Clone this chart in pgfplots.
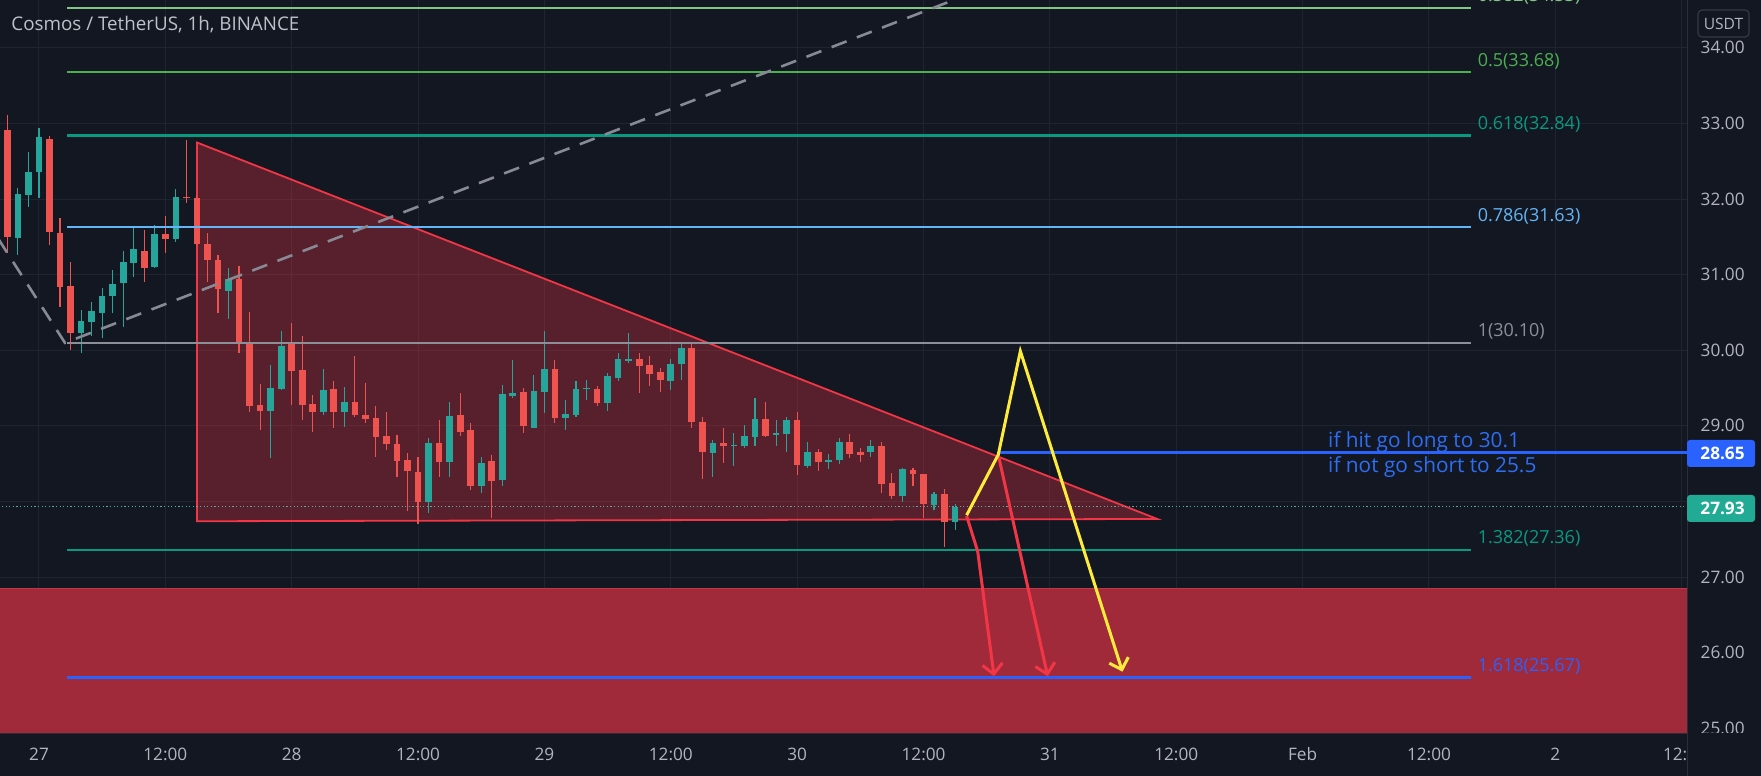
\documentclass[border=0pt]{standalone}
\usepackage{fontspec}
\setmainfont{Open Sans}
\usepackage{pgfplots}
\pgfplotsset{compat=1.18}
\usepackage{pgfplotstable}
\usetikzlibrary{arrows.meta}

\definecolor{bg}{RGB}{19,23,34}
\definecolor{gridc}{RGB}{32,36,48}
\definecolor{sepc}{RGB}{42,46,57}
\definecolor{lab}{RGB}{178,181,190}
\definecolor{ttl}{RGB}{190,193,200}
\definecolor{upc}{RGB}{38,166,154}
\definecolor{dnc}{RGB}{239,83,80}
\definecolor{tri}{RGB}{242,54,69}
\definecolor{zonec}{RGB}{160,42,58}
\definecolor{zoneedge}{RGB}{195,52,68}
\definecolor{fiba}{RGB}{129,199,132}
\definecolor{fibb}{RGB}{76,175,80}
\definecolor{fibc}{RGB}{8,153,129}
\definecolor{fibd}{RGB}{100,181,246}
\definecolor{fibe}{RGB}{140,143,152}
\definecolor{fibg}{RGB}{41,98,255}
\definecolor{dashc}{RGB}{135,138,148}
\definecolor{dotc}{RGB}{90,170,160}
\definecolor{bluec}{RGB}{41,98,255}
\definecolor{txtb}{RGB}{45,110,245}
\definecolor{yel}{RGB}{255,235,59}
\definecolor{rarr}{RGB}{242,54,69}
\definecolor{tagt}{RGB}{34,171,148}
\definecolor{usdtc}{RGB}{54,58,69}

\newcommand\fAx{\fontsize{8.6}{10}\selectfont}
\newcommand\fFib{\fontsize{9.0}{11}\selectfont}
\newcommand\fTxt{\fontsize{10.4}{12}\selectfont}
\newcommand\fTtl{\fontsize{9.4}{11}\selectfont}

% up (teal) candles: hour from Jan 27 00:00, open, high, low, close
\pgfplotstableread{
t o hi lo c
-2 31.49 32.15 31.26 32.07
-1 32.06 32.63 31.90 32.36
0 32.36 32.94 32.01 32.82
4 30.23 30.53 29.97 30.39
5 30.38 30.64 30.19 30.52
6 30.50 30.82 30.16 30.72
7 30.72 31.06 30.49 30.88
8 30.89 31.31 30.31 31.17
9 31.15 31.62 30.97 31.34
11 31.10 31.66 31.09 31.54
13 31.47 32.14 31.44 32.03
18 30.79 31.09 30.42 30.94
22 29.20 29.81 28.57 29.50
23 29.49 30.25 29.48 30.06
27 29.19 29.76 29.14 29.48
29 29.19 29.52 28.99 29.32
37 27.99 28.84 27.85 28.78
39 28.53 29.32 28.33 29.13
42 28.20 28.59 28.11 28.51
44 28.29 29.54 28.21 29.42
45 29.40 29.87 29.37 29.44
47 28.98 29.67 28.97 29.46
48 29.45 30.25 29.17 29.76
50 29.11 29.34 28.95 29.16
51 29.15 29.59 29.12 29.49
52 29.49 29.61 29.34 29.50
54 29.31 29.70 29.20 29.66
55 29.63 29.96 29.59 29.89
56 29.86 30.23 29.83 29.89
60 29.60 29.88 29.48 29.82
61 29.82 30.08 29.61 30.03
64 28.64 28.81 28.33 28.77
66 28.74 28.91 28.47 28.75
67 28.73 29.01 28.71 28.87
68 28.86 29.37 28.74 29.09
70 28.88 29.08 28.73 28.91
71 28.89 29.12 28.66 29.08
73 28.47 28.79 28.45 28.66
75 28.53 28.63 28.43 28.55
76 28.55 28.84 28.50 28.79
79 28.65 28.82 28.59 28.74
82 28.07 28.44 28.00 28.43
85 27.96 28.13 27.89 28.10
87 27.73 27.97 27.63 27.93
}\uptable

% down (red) candles
\pgfplotstableread{
t o hi lo c
-4 33.75 33.85 32.80 32.92
-3 32.91 33.11 31.29 31.50
1 32.80 32.83 31.39 31.56
2 31.55 31.75 30.58 30.84
3 30.85 31.17 30.01 30.23
10 31.32 31.59 30.91 31.09
12 31.54 31.78 31.29 31.48
14 32.03 32.78 31.95 32.01
15 32.01 32.05 31.38 31.41
16 31.41 31.55 30.91 31.19
17 31.20 31.26 30.49 30.81
19 30.94 31.12 29.96 30.09
20 30.09 30.51 29.19 29.26
21 29.28 29.56 28.95 29.20
24 30.08 30.36 29.28 29.73
25 29.74 30.19 29.08 29.28
26 29.29 29.41 28.92 29.19
28 29.49 29.59 28.98 29.19
30 29.32 29.92 29.12 29.15
31 29.15 29.57 29.04 29.09
32 29.10 29.26 28.59 28.85
33 28.87 29.19 28.68 28.76
34 28.76 28.88 28.33 28.54
35 28.55 28.64 27.87 28.40
36 28.39 28.59 27.71 27.99
38 28.78 29.08 28.33 28.53
40 29.14 29.44 28.87 28.92
41 28.95 29.04 28.15 28.20
43 28.54 28.62 27.78 28.27
46 29.45 29.50 28.91 29.00
49 29.76 29.87 29.04 29.10
53 29.49 29.53 29.26 29.30
57 29.89 29.96 29.43 29.80
58 29.81 29.93 29.53 29.69
59 29.71 29.77 29.45 29.61
62 30.03 30.08 28.98 29.05
63 29.05 29.12 28.30 28.65
65 28.78 28.98 28.51 28.73
69 29.09 29.32 28.86 28.87
72 29.08 29.19 28.35 28.48
74 28.66 28.69 28.41 28.53
77 28.79 28.90 28.57 28.63
78 28.66 28.71 28.53 28.62
80 28.74 28.79 28.12 28.23
81 28.24 28.38 28.03 28.07
83 28.42 28.44 28.21 28.37
84 28.37 28.37 27.78 27.97
86 28.10 28.16 27.40 27.73
}\downtable

\pgfplotsset{candle/.style={only marks, mark=none, mark size=0pt,
  mark options={draw=none, fill=none}, forget plot,
  error bars/y dir=plus, error bars/y explicit, error bars/error mark=none}}

\begin{document}
\begin{tikzpicture}
\fill[bg] (0,0) rectangle (880.5pt,388pt);
\begin{axis}[
  at={(0pt,21.5pt)}, anchor=south west,
  scale only axis, width=843.5pt, height=366.5pt,
  xmin=-3.70, xmax=156.51, ymin=24.939, ymax=34.635,
  axis line style={draw=none}, tick style={draw=none},
  xtick={0,12,...,156}, ytick={25,...,34},
  xticklabels={}, yticklabels={},
  grid=major, major grid style={draw=gridc, line width=0.5pt},
]
% red zone
\addplot[fill=zonec, draw=none, forget plot] coordinates {(-10,24) (170,24) (170,26.85) (-10,26.85)} -- cycle;
\addplot[draw=zoneedge, line width=0.6pt, forget plot] coordinates {(-10,26.85) (170,26.85)};
% triangle
\addplot[fill=tri, fill opacity=0.31, draw=tri, line width=0.9pt, forget plot] coordinates {(15,32.75) (106.2,27.77) (15,27.74)} -- cycle;
% last price dotted line
\addplot[draw=dotc, line width=0.5pt, dash pattern=on 0.6pt off 1.2pt, forget plot] coordinates {(-10,27.93) (170,27.93)};
% candles: wicks
\addplot[candle, error bars/error bar style={line width=0.55pt, draw=upc}]
  table[x=t, y=lo, y error plus expr=\thisrow{hi}-\thisrow{lo}] {\uptable};
\addplot[candle, error bars/error bar style={line width=0.55pt, draw=dnc}]
  table[x=t, y=lo, y error plus expr=\thisrow{hi}-\thisrow{lo}] {\downtable};
% candles: bodies
\addplot[candle, error bars/error bar style={line width=3.35pt, draw=upc}]
  table[x=t, y=o, y error plus expr={max(\thisrow{c}-\thisrow{o},0.015)}] {\uptable};
\addplot[candle, error bars/error bar style={line width=3.35pt, draw=dnc}]
  table[x=t, y=c, y error plus expr={max(\thisrow{o}-\thisrow{c},0.015)}] {\downtable};
% fib levels
\addplot[draw=fiba, line width=1.3pt, forget plot] coordinates {(2.7,34.53) (136.0,34.53)};
\addplot[draw=fibb, line width=1.3pt, forget plot] coordinates {(2.7,33.68) (136.0,33.68)};
\addplot[draw=fibc, line width=1.3pt, forget plot] coordinates {(2.7,32.84) (136.0,32.84)};
\addplot[draw=fibd, line width=1.3pt, forget plot] coordinates {(2.7,31.63) (136.0,31.63)};
\addplot[draw=fibe, line width=1.3pt, forget plot] coordinates {(2.7,30.10) (136.0,30.10)};
\addplot[draw=fibc, line width=1.3pt, forget plot] coordinates {(2.7,27.36) (136.0,27.36)};
\addplot[draw=fibg, line width=1.3pt, forget plot] coordinates {(2.7,25.67) (136.0,25.67)};
% dashed trend legs
\addplot[draw=dashc, line width=1.3pt, dash pattern=on 8pt off 5.5pt, forget plot] coordinates {(-8,32.375) (2.47,30.10) (100,35.34)};
% breakout level
\addplot[draw=bluec, line width=1.3pt, forget plot] coordinates {(91.1,28.65) (170,28.65)};
% scenario arrows
\addplot[draw=rarr, line width=1.5pt, -{Straight Barb[length=5pt,width=10pt]}, forget plot] coordinates {(88.1,27.81) (89.15,27.34) (90.7,25.69)};
\addplot[draw=rarr, line width=1.5pt, -{Straight Barb[length=5pt,width=10pt]}, forget plot] coordinates {(91.1,28.62) (95.8,25.69)};
\addplot[draw=yel, line width=1.5pt, -{Straight Barb[length=5pt,width=10pt]}, forget plot] coordinates {(88.1,27.82) (91.1,28.62) (93.2,29.99) (102.9,25.75)};
% fib labels
\node[anchor=west, yshift=5.6pt, text=fiba, font=\fFib, inner sep=0pt] at (axis cs:136.6,34.53) {0.382(34.53)};
\node[anchor=west, yshift=5.6pt, text=fibb, font=\fFib, inner sep=0pt] at (axis cs:136.6,33.68) {0.5(33.68)};
\node[anchor=west, yshift=5.6pt, text=fibc, font=\fFib, inner sep=0pt] at (axis cs:136.6,32.84) {0.618(32.84)};
\node[anchor=west, yshift=5.6pt, text=fibd, font=\fFib, inner sep=0pt] at (axis cs:136.6,31.63) {0.786(31.63)};
\node[anchor=west, yshift=5.6pt, text=fibe, font=\fFib, inner sep=0pt] at (axis cs:136.6,30.10) {1(30.10)};
\node[anchor=west, yshift=5.6pt, text=fibc, font=\fFib, inner sep=0pt] at (axis cs:136.6,27.36) {1.382(27.36)};
\node[anchor=west, yshift=5.6pt, text=fibg, font=\fFib, inner sep=0pt] at (axis cs:136.6,25.67) {1.618(25.67)};
% note text
\node[anchor=west, text=txtb, font=\fTxt, inner sep=0pt] at (axis cs:122.4,28.79) {if hit go long to 30.1};
\node[anchor=west, text=txtb, font=\fTxt, inner sep=0pt] at (axis cs:122.4,28.46) {if not go short to 25.5};
\end{axis}
% separators
\draw[sepc, line width=0.5pt] (843.75pt,0) -- (843.75pt,388pt);
\draw[sepc, line width=0.5pt] (0,21.25pt) -- (843.5pt,21.25pt);
% price scale labels
\begin{scope}
\clip (844pt,21.5pt) rectangle (880.5pt,388pt);
\foreach \p/\yy in {34.00/364.0, 33.00/326.2, 32.00/288.4, 31.00/250.6, 30.00/212.8, 29.00/175.0, 27.00/99.4, 26.00/61.6, 25.00/23.8}
  \node[anchor=base east, text=lab, font=\fAx, inner sep=0pt] at (872.5pt,\yy pt-3pt) {\p};
\end{scope}
% time labels
\foreach \xx/\lbl in {19.5/27, 82.68/12:00, 145.86/28, 209.04/12:00, 272.22/29, 335.4/12:00, 398.58/30, 461.76/12:00, 524.94/31, 588.12/12:00, 651.3/Feb, 714.48/12:00, 777.66/2}
  \node[anchor=base, text=lab, font=\fAx, inner sep=0pt] at (\xx pt,7.5pt) {\lbl};
\begin{scope}
\clip (0,0) rectangle (843.5pt,21pt);
\node[anchor=base, text=lab, font=\fAx, inner sep=0pt] at (842.5pt,7.5pt) {12:00};
\end{scope}
% price tags
\fill[bluec, rounded corners=1.5pt] (843.5pt,154.5pt) rectangle (877.5pt,168pt);
\node[anchor=base east, text=white, font=\fAx\bfseries, inner sep=0pt] at (872.5pt,158.25pt) {28.65};
\fill[tagt, rounded corners=1.5pt] (843.5pt,127pt) rectangle (877.5pt,140.5pt);
\node[anchor=base east, text=white, font=\fAx\bfseries, inner sep=0pt] at (872.5pt,130.75pt) {27.93};
% currency box
\draw[usdtc, rounded corners=2pt, line width=0.6pt] (849pt,369.5pt) rectangle (874.5pt,383pt);
\node[text=lab, font=\fontsize{7.8}{9}\selectfont, inner sep=0pt] at (861.75pt,376.25pt) {USDT};
% title
\node[anchor=west, text=ttl, font=\fTtl, inner sep=0pt] at (5.5pt,375.5pt) {Cosmos / TetherUS, 1h, BINANCE};
\pgfresetboundingbox
\useasboundingbox (0,0) rectangle (880.5pt,388pt);
\end{tikzpicture}
\end{document}
